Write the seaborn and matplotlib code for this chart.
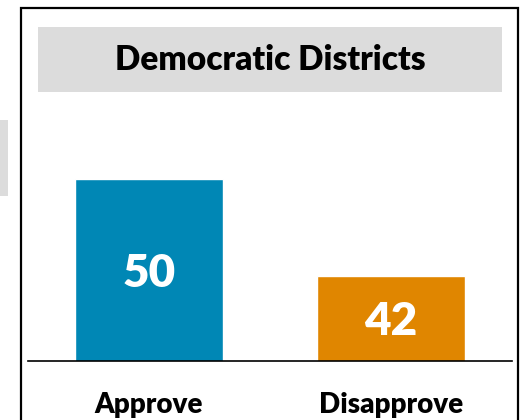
import matplotlib
matplotlib.use("Agg")
import matplotlib.pyplot as plt
import matplotlib.patches as mpatches
import seaborn as sns
import pandas as pd

# chart values
categories = ["Approve", "Disapprove"]
values = [50, 42]
bar_colors = ["#0087B5", "#E08600"]
panel_title = "Democratic Districts"

sns.set_style("white")
plt.rcParams["font.family"] = ["Lato", "DejaVu Sans"]

df = pd.DataFrame({"response": categories, "pct": values})

PX_PER_UNIT = 12.125  # vertical scale of the original, axis starts at 35
fig = plt.figure(figsize=(5.2, 4.2), dpi=100)
ax = fig.add_axes([28 / 520, 59 / 420, 484 / 520, 261 / 420])

sns.barplot(data=df, x="response", y="pct", hue="response",
            palette=bar_colors, saturation=1, width=0.61, legend=False, ax=ax)

ax.set_xlim(-0.5, 1.5)
ax.set_ylim(35, 35 + 261 / PX_PER_UNIT)

for p, v in zip(ax.patches, values):
    ax.text(p.get_x() + p.get_width() / 2, (35 + v) / 2 - 16.5 / PX_PER_UNIT,
            str(v), ha="center", va="baseline", color="white",
            fontsize=33, fontweight="heavy")

ax.set_xlabel(""); ax.set_ylabel("")
ax.set_yticks([])
ax.tick_params(axis="x", length=0, pad=22, labelsize=20, labelcolor="black")
for lab in ax.get_xticklabels():
    lab.set_fontweight("heavy")
for side in ["top", "left", "right"]:
    ax.spines[side].set_visible(False)
ax.spines["bottom"].set_color("black")
ax.spines["bottom"].set_linewidth(1.2)

# panel frame, title box and the edge of the neighbouring panel
fig.patches.append(mpatches.Rectangle((21 / 520, -0.05), 497 / 520, (420 - 8) / 420 + 0.05,
                                      transform=fig.transFigure, fill=False,
                                      edgecolor="black", linewidth=1.6, zorder=0))
fig.patches.append(mpatches.Rectangle((38 / 520, (420 - 92) / 420), 464 / 520, 65 / 420,
                                      transform=fig.transFigure, facecolor="#DCDCDC",
                                      edgecolor="none", zorder=0))
fig.patches.append(mpatches.Rectangle((0, (420 - 196) / 420), 8 / 520, 76 / 420,
                                      transform=fig.transFigure, facecolor="#DCDCDC",
                                      edgecolor="none", zorder=0))
fig.text(270 / 520, (420 - 70) / 420, panel_title, ha="center", va="baseline",
         fontsize=24, fontweight="heavy", color="black")

fig.savefig("out.png", dpi=100)
